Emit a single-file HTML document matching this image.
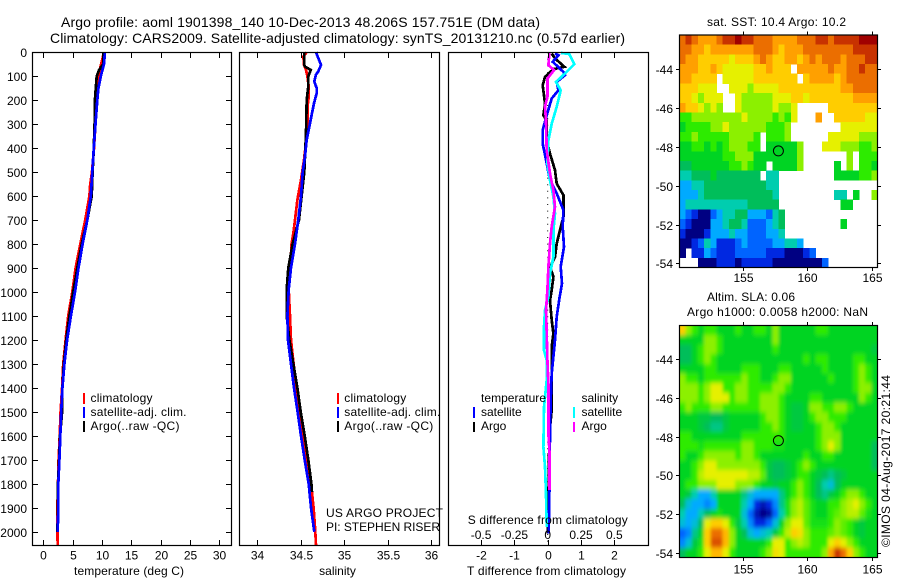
<!DOCTYPE html>
<html lang="en">
<head>
<meta charset="utf-8">
<title>Argo profile 1901398_140</title>
<style>
html,body{margin:0;padding:0;background:#fff;}
svg{display:block;}
text{font-family:"Liberation Sans",sans-serif;font-size:12px;fill:#000;}
.ttl{font-size:14px;}
.frame{fill:none;stroke:#000;stroke-width:1.2;}
.tick{stroke:#000;stroke-width:1;shape-rendering:crispEdges;}
.curve{fill:none;stroke-width:2.7;stroke-linejoin:miter;shape-rendering:crispEdges;}
</style>
</head>
<body>
<svg id="figure" xmlns="http://www.w3.org/2000/svg" width="900" height="580" viewBox="0 0 900 580">
  <defs>
    <clipPath id="clip-sst"><rect x="679.5" y="35" width="198.5" height="232.5"/></clipPath>
    <clipPath id="clip-sla"><rect x="679.5" y="325.5" width="198.5" height="232"/></clipPath>
    <filter id="soften" x="-10%" y="-10%" width="120%" height="120%"><feGaussianBlur stdDeviation="1.7 2.5"/></filter>
  </defs>

  <text class="ttl" x="61" y="27" textLength="479">Argo profile: aoml 1901398_140 10-Dec-2013 48.206S 157.751E (DM data)</text>
  <text class="ttl" x="50" y="43" textLength="575">Climatology: CARS2009. Satellite-adjusted climatology: synTS_20131210.nc (0.57d earlier)</text>

  <g id="panel-temp"></g>
  <g id="panel-sal"></g>
  <g id="panel-diff"></g>

  <g id="sst-cells" clip-path="url(#clip-sst)"></g>
  <g clip-path="url(#clip-sla)">
    <g id="sla-cells" filter="url(#soften)"></g>
  </g>
  <g id="map-axes"></g>

  <rect class="frame" x="32.5" y="52.5" width="199" height="493"/>
  <rect class="frame" x="239.5" y="52.5" width="200" height="493"/>
  <rect class="frame" x="448.5" y="52.5" width="200" height="493"/>

  <text x="129" y="575" text-anchor="middle" textLength="110">temperature (deg C)</text>
  <text x="337.5" y="575" text-anchor="middle">salinity</text>
  <text x="467" y="575" textLength="159">T difference from climatology</text>
  <text x="467.7" y="524" textLength="160">S difference from climatology</text>

  <g>
    <rect x="83" y="393" width="2" height="11" fill="#f00"/>
    <text x="90.5" y="402" textLength="62">climatology</text>
    <rect x="83" y="407" width="2" height="11" fill="#00f"/>
    <text x="90.5" y="416" textLength="96">satellite-adj. clim.</text>
    <rect x="83" y="421" width="2" height="11" fill="#000"/>
    <text x="90.5" y="430" textLength="89">Argo(..raw -QC)</text>
  </g>
  <g>
    <rect x="337" y="393" width="2" height="11" fill="#f00"/>
    <text x="344.3" y="402" textLength="62">climatology</text>
    <rect x="337" y="407" width="2" height="11" fill="#00f"/>
    <text x="344.3" y="416" textLength="96">satellite-adj. clim.</text>
    <rect x="337" y="421" width="2" height="11" fill="#000"/>
    <text x="344.3" y="430" textLength="89">Argo(..raw -QC)</text>
  </g>
  <text x="326" y="517" textLength="117">US ARGO PROJECT</text>
  <text x="326" y="531" textLength="114">PI: STEPHEN RISER</text>

  <g>
    <text x="481" y="402" textLength="65">temperature</text>
    <rect x="473" y="407" width="2" height="11" fill="#00f"/>
    <text x="481" y="416">satellite</text>
    <rect x="473" y="422" width="2" height="10" fill="#000"/>
    <text x="481" y="430">Argo</text>
    <text x="581.5" y="402">salinity</text>
    <rect x="573" y="407" width="2" height="11" fill="#0ff"/>
    <text x="581.5" y="416">satellite</text>
    <rect x="573" y="422" width="2" height="10" fill="#f0f"/>
    <text x="581.5" y="430">Argo</text>
  </g>

  <text x="707" y="26" textLength="139">sat. SST: 10.4 Argo: 10.2</text>
  <text x="707" y="301" textLength="88">Altim. SLA: 0.06</text>
  <text x="687" y="316" textLength="181">Argo h1000: 0.0058 h2000: NaN</text>
  <text transform="translate(890,547) rotate(-90)" textLength="172">©IMOS 04-Aug-2017 20:21:44</text>
</svg>

<script>
// ---------- profile data ----------
const depthTicks = [0,100,200,300,400,500,600,700,800,900,1000,1100,1200,1300,1400,1500,1600,1700,1800,1900,2000];
const tempTicks = [0,5,10,15,20,25,30];
const salTicks = [34,34.5,35,35.5,36];
const salTickLabels = ['34','34.5','35','35.5','36'];
const tDiffTicks = [-2,-1,0,1,2];
const sDiffTicks = [-0.5,-0.25,0,0.25,0.5];
const sDiffTickLabels = ['-0.5','-0.25','0','0.25','0.5'];

const tempDepthRed = [0,50,100,150,200,300,400,500,550,600,700,800,900,1000,1100,1200,1300,1400,1500,1600,1700,1800,1900,2000,2056];
const tempRed = [10.35,9.85,9.4,9.4,9.1,8.9,8.65,8.3,8,7.85,7.15,6.3,5.5,4.95,4.25,3.8,3.4,3.2,2.95,2.8,2.6,2.5,2.4,2.4,2.45];
const tempDepthBlack = [0,50,75,100,200,300,400,500,600,700,800,900,1000,1100,1200,1300,1400,1500,1600,1700,1800,1900,2000];
const tempBlack = [10.35,10.2,9.5,9.1,8.8,8.75,8.6,8.4,8.25,7.5,6.55,5.8,5.1,4.45,3.9,3.5,3.25,3.2,2.85,2.7,2.5,2.5,2.4];
const tempDepthBlue = [0,50,100,150,200,300,400,500,600,700,800,900,1000,1100,1200,1300,1400,1500,1600,1700,1800,1900,2000];
const tempBlue = [10.5,10.35,9.8,9.4,9.2,8.9,8.6,8.35,8.1,7.5,6.7,6,5.4,4.7,4.05,3.6,3.25,3.05,2.9,2.75,2.55,2.55,2.45];

const salDepthRed = [0,18,53,74,101,143,185,226,310,393,449,532,615,685,754,799,907,990,1100,1200,1300,1400,1500,1600,1700,1800,1900,2000,2056];
const salRed = [34.571,34.533,34.54,34.563,34.579,34.594,34.594,34.582,34.579,34.559,34.54,34.506,34.464,34.441,34.418,34.398,34.379,34.364,34.379,34.391,34.421,34.456,34.498,34.533,34.579,34.621,34.651,34.67,34.678];
const salDepthBlack = [0,53,60,74,101,143,199,338,435,499,601,699,799,899,990,1100,1200,1300,1400,1500,1600,1700,1800,1835];
const salBlack = [34.544,34.544,34.552,34.617,34.59,34.59,34.571,34.563,34.552,34.544,34.513,34.483,34.41,34.36,34.341,34.341,34.372,34.418,34.464,34.502,34.548,34.59,34.625,34.632];
const salDepthBlue = [0,25,53,80,94,122,150,171,213,254,310,365,435,499,601,699,799,899,990,1100,1200,1300,1400,1500,1600,1700,1800,1900,2000];
const salBlue = [34.678,34.705,34.736,34.705,34.678,34.659,34.686,34.686,34.655,34.632,34.602,34.571,34.552,34.525,34.506,34.475,34.437,34.391,34.364,34.349,34.356,34.391,34.425,34.467,34.506,34.548,34.594,34.621,34.659];

const diffDepthTArgo = [6,26,61,71,103,138,214,263,284,367,423,492,548,596,687,742,798,854,895,937,992,1034,1117,1173,1229,1493,1590,1868,2007];
const diffTArgo = [0.12,0.22,0.5,0.17,-0.08,-0.15,-0.08,-0.13,-0.03,-0.03,0.07,0.22,0.27,0.47,0.47,0.37,0.27,0.22,0.07,0.17,0.12,0.07,0.12,0.17,0.12,0.12,0.05,0.02,0];
const diffDepthTSat = [6,13,40,82,96,124,159,193,263,325,381,464,534,589,659,728,812,895,965,1027,1104,1201,1270,1340,1451,1590,1840,2007];
const diffTSat = [0.22,0.32,0.15,0.47,0.52,0.27,0.32,0.12,-0.03,-0.15,-0.15,-0.03,0.07,0.27,0.47,0.45,0.49,0.39,0.43,0.35,0.27,0.22,0.17,0.12,0.09,0.07,0.05,0.03];
const diffDepthSSat = [3,8,50,89,124,159,228,298,367,464,534,603,673,742,854,923,1020,1076,1145,1243,1284,1368,1479,1646,1729,1840,1979];
const diffSSat = [0.1,0.1625,0.2,0.13,0.0625,0.0975,0.0675,0.03,0.005,-0.0025,0.0175,0.0425,0.055,0.0425,0.0425,0.0175,0.005,-0.02,-0.0275,-0.0275,-0.0075,-0.0075,-0.0275,-0.0325,-0.02,-0.0125,-0.0075];
const diffDepthSArgo = [3,54,75,110,186,228,284,409,506,576,645,728,798,895,992,1076,1173,1284,1382,1590,1660,1826];
const diffSArgo = [0.0125,0.005,0.0475,-0.0025,-0.0025,-0.02,-0.0125,-0.0075,0.0175,0.0425,0.055,0.03,0.0175,0.005,-0.0025,-0.0125,-0.0075,-0.0025,0.005,0.005,0.0125,0.0125];

// ---------- map data (colour-scale index; null = no data) ----------
const n = null;
const sstRows = [
[12,13,12,11,11,11,12,13,13,14,13,13,12,12,12,11,11,11,11,12,12,12,13,13,12,13,13,13,13,14,14,14],
[12,12,11,11,10,11,11,11,11,11,11,11,12,12,12,11,10,11,11,11,12,12,12,12,12,12,12,12,13,13,13,13],
[12,11,11,10,10,10,10,10,9,10,10,10,11,12,11,10,10,11,11,10,11,12,11,12,12,12,11,12,12,12,13,13],
[11,11,11,10,10,11,10,9,9,9,9,9,10,10,11,10,10,10,n,11,11,11,11,11,12,11,11,12,12,13,12,12],
[11,11,10,10,10,10,n,9,9,9,9,9,10,10,10,10,10,10,10,n,10,11,11,11,11,10,11,12,12,12,12,12],
[10,10,10,9,9,9,n,n,9,9,9,8,9,9,9,9,10,10,10,10,10,10,10,10,10,10,11,11,12,12,12,12],
[10,10,9,8,9,9,9,n,n,9,8,8,8,8,8,9,9,9,10,10,9,10,10,10,10,10,10,10,11,11,11,11],
[11,10,10,9,8,9,8,n,n,9,8,8,8,8,8,9,8,8,9,n,n,n,n,n,10,10,10,10,10,10,10,10],
[7,7,8,8,8,8,8,8,8,8,9,8,8,8,8,7,8,7,9,n,n,n,11,n,n,10,10,10,10,10,9,9],
[6,7,7,7,7,8,8,9,8,8,8,8,8,8,7,7,7,8,n,n,n,n,n,n,n,n,9,9,9,9,9,9],
[7,7,8,7,7,7,7,7,8,8,8,8,7,n,7,7,7,8,n,n,n,n,n,n,9,9,9,9,9,8,8,8],
[6,6,7,7,6,7,6,7,8,8,8,7,7,n,6,6,6,6,6,8,n,n,n,9,9,9,8,8,8,7,7,8],
[6,6,6,6,6,6,6,7,7,8,8,8,6,6,6,6,6,6,6,8,n,n,n,n,n,n,n,8,n,7,7,7],
[5,5,6,6,6,6,6,6,7,7,8,7,6,6,n,6,6,6,6,8,n,n,n,n,n,6,n,8,n,7,7,6],
[4,4,5,5,5,6,5,5,5,5,5,5,5,n,4,4,n,n,n,n,n,n,n,n,n,6,6,6,6,7,7,8],
[3,3,4,4,5,5,5,5,5,5,5,5,5,5,4,4,n,n,n,n,n,n,n,n,n,n,n,n,n,n,n,n],
[3,3,3,4,5,5,5,5,5,5,5,5,5,5,5,4,n,n,n,n,n,n,n,n,n,4,4,n,6,n,n,8],
[3,4,4,4,4,4,4,4,4,4,4,5,5,5,5,5,n,n,n,n,n,n,n,n,n,n,6,6,n,n,n,n],
[3,2,1,0,0,2,3,4,4,5,5,3,3,3,2,4,5,n,n,n,n,n,n,n,n,n,n,n,n,n,n,n],
[2,1,0,0,0,3,3,4,5,5,4,2,2,2,3,4,5,n,n,n,n,n,n,n,n,n,6,n,n,n,n,n],
[1,0,0,0,1,3,3,3,4,3,3,2,2,2,3,3,4,n,n,n,n,n,n,n,n,n,n,n,n,n,n,n],
[0,0,1,2,4,3,1,1,1,2,3,2,2,2,2,3,3,4,4,3,n,n,n,n,n,n,n,n,n,n,n,n],
[0,n,1,1,3,2,1,1,1,2,2,2,2,2,1,1,1,0,0,0,1,2,n,n,n,n,n,n,n,n,n,n],
[n,n,n,0,0,0,1,1,1,0,1,1,1,1,1,0,0,0,0,0,0,0,0,2,n,n,n,n,n,n,n,n]
];
const slaRows = [
[10,8,7,6,7,7,6,6,6,7,6,6,7,7,6,8,6,6,6,6,6,6,7,7,6,6,6,6,6,6,6,6],
[6,6,6,6,8,8,7,6,6,6,6,6,6,6,6,8,6,6,6,6,6,6,6,6,6,6,6,6,6,6,6,6],
[5,5,6,7,8,8,7,6,6,6,6,6,6,6,6,7,6,6,6,6,6,6,6,6,6,6,6,6,6,6,6,5.5],
[5,5,6,7,8,7,6,6,6,6,6,6,6,6,6,6,6,6,6,6,7,6,7,7,6,6,6,6,7,7,6,6],
[6,6,6,6,7,7,6,6,6,6,7,7,7,6,6,6,7,7,6,6,6,6,6,7,6,6,6,6,7,8,7,6],
[8,7,7,6,7,7,7,7,7,7,8,7,7,6,6,7,8,8,6,6,6,6,6,6,7,6,6,6,7,8,7,6],
[8,8,8,7,8,9,9,7,7,8,8,7,7,7,7,8,8,7,6,6,6,6,6,6,6,6,6,6,7,8,8,6],
[8,8,8,7,8,9,9,9,7,8,8,7,7,8,8,8,7,6,6,6,6,7,7,6,6,6,6,6,6,8,7,6],
[7,8,7,7,7,8,8,7,7,7,7,7,7,8,8,8,7,6,5.5,5.5,6,8,8,7,7,8,8,7,6,6,6,6],
[6,6,6,5.5,5.5,5,5,5.5,6,6,6,6,6,7,8,8,7,6,5.5,5.5,6,7,8,8,7,7,7,6,6,6,6,6],
[6,6,6,5.5,5,4.5,4.5,5.5,6,6,6,6,6,7,7,8,7,6,5.5,5.5,6,6,7,8,8,7,6,6,6,6,6,6],
[7,7,6,6,6,6,6,6,6,6,7,7,7,7,7,7,7,6,6,6,6,6,7,8,8,8,6,6,6,6,6,6],
[7,7,7,6.5,7,7,7,7,7,7,8,8,7,7,7,6.5,6.5,6,6,6,6,6,7,8,9,8,6,6,6,6,6,5],
[7,6,6,7,8,8,8,8,8,7,8,8,7,6,6,6,6,6,6,6,7,6,6,7,7,6,6,6,6,6,6,5],
[6,6,7,8,9,9,8,8,8,8,8,8,8,7,5.5,5,5,5.5,6,7,8,7,6,6,6,6,6,6,6,6,6,5],
[6,6,7,8.5,9,9,9,9,9,9,9,8.5,8.5,7.5,5.5,5,5,5.5,6,7,7,6,5.5,5,4.5,5,5.5,6,6,6,6,6],
[6,7,7,8,8,8,9,9,9,8,8,8,7,6,6,5.5,6,6,7,8,7,6,5,4,3.5,5,6,6,6,6,6,6],
[6,5.5,4,3,3,4,6,6,6,6,4.5,3.5,3,3,3,3,4.5,6,7,8,7,6,5,4.5,5.5,6,7,8,8,7,6,6],
[5,3.5,3,3,2.5,3,6,6,6,6,4,3,1,0.5,1,2.5,4.5,6.5,8,8.5,7.5,6.5,6,6,7,7,8,8.5,9,8,7,6],
[4,3,3,4,5,6,6.5,6,6,6,3.5,2,0.5,0,0.3,2,4,6.5,8,8.5,7.5,6.5,6,6,7,7.5,8,8.5,8.5,7.5,6.5,6],
[3.5,3,3.5,5,9,10,10,9,7,5.5,4,2.5,1,1,2,3.5,6,8,9,9,7.5,6.5,6.5,6.5,7,8,7.5,7,6,5.5,6,6],
[2,2.5,4.5,6,10,12,12,10.5,8,6,5,3.5,3,3.5,4,5.5,7,8.5,10,9.5,8,7,7,7,7.5,8,7.5,7,6,5.5,6,6],
[2.5,3.5,5.5,6.5,10,12.5,12.5,10.5,8,6,6,6,6,6,7,9,9,7,8,8.5,8,7,7,7,9,10,9,8,7,6,6,6],
[5,6,6,7,9,10.5,10.5,9,7,6,6,6,6,7,8,9.5,9,7,7,7,7,7,7,8,11,13,12,10,8,7,6,6]
];
const lonTicks = [155,160,165];
const latTicks = [-44,-46,-48,-50,-52,-54];
const floatLon = 157.751;
const floatLat = -48.206;

// ---------- axis functions ----------
const SVGNS = 'http://www.w3.org/2000/svg';
const depthY = d => 52.2 + d * 0.2398;
const tempX = t => 43.3 + t * 5.867;
const salX = s => 257 + (s - 34) * 87;
const tDiffX = t => 547.7 + t * 33.3;
const sDiffX = s => 547.7 + s * 133.2;
const lonX = lon => 743 + (lon - 155) * 12.87;
const sstLatY = lat => 69.3 + (-44 - lat) * 19.4;
const slaLatY = lat => 359.3 + (-44 - lat) * 19.34;

function make(tag, parent) {
  const el = document.createElementNS(SVGNS, tag);
  parent.appendChild(el);
  return el;
}
function curve(parent, name, xs, depths, xFn, color) {
  const el = make('polyline', parent);
  
  
  el.setAttribute('class', 'curve');
  el.setAttribute('stroke', color);
  el.setAttribute('points', xs.map((v, i) => xFn(v).toFixed(1) + ',' + depthY(depths[i]).toFixed(1)).join(' '));
  return el;
}
function tickLine(parent, name, x1, y1, x2, y2) {
  const el = make('line', parent);
  
  
  el.setAttribute('class', 'tick');
  el.setAttribute('x1', x1);
  el.setAttribute('y1', y1);
  el.setAttribute('x2', x2);
  el.setAttribute('y2', y2);
}
function label(parent, name, x, y, anchor, str) {
  const el = make('text', parent);
  
  
  el.setAttribute('x', x);
  el.setAttribute('y', y);
  el.setAttribute('text-anchor', anchor);
  el.textContent = str;
}

// ---------- profile panels ----------
const pT = document.getElementById('panel-temp');
const pS = document.getElementById('panel-sal');
const pD = document.getElementById('panel-diff');

curve(pT, 'temperature-climatology-line', tempRed, tempDepthRed, tempX, '#f00');
curve(pT, 'temperature-argo-line', tempBlack, tempDepthBlack, tempX, '#000');
curve(pT, 'temperature-satellite-line', tempBlue, tempDepthBlue, tempX, '#00f');

curve(pS, 'salinity-climatology-line', salRed, salDepthRed, salX, '#f00');
curve(pS, 'salinity-argo-line', salBlack, salDepthBlack, salX, '#000');
curve(pS, 'salinity-satellite-line', salBlue, salDepthBlue, salX, '#00f');

const zeroLine = make('line', pD);


zeroLine.setAttribute('x1', tDiffX(0));
zeroLine.setAttribute('x2', tDiffX(0));
zeroLine.setAttribute('y1', depthY(0));
zeroLine.setAttribute('y2', depthY(2056));
zeroLine.setAttribute('stroke', '#000');
zeroLine.setAttribute('stroke-width', '1');
zeroLine.setAttribute('stroke-dasharray', '1 5.6');

curve(pD, 't-diff-argo-line', diffTArgo, diffDepthTArgo, tDiffX, '#000');
curve(pD, 't-diff-satellite-line', diffTSat, diffDepthTSat, tDiffX, '#00f');
curve(pD, 's-diff-satellite-line', diffSSat, diffDepthSSat, sDiffX, '#0ff');
curve(pD, 's-diff-argo-line', diffSArgo, diffDepthSArgo, sDiffX, '#f0f');

depthTicks.forEach(d => {
  const y = Math.round(depthY(d)) + 0.5;
  tickLine(pT, 'depth-tick-left', 32.5, y, 38, y);
  tickLine(pT, 'depth-tick-right', 226, y, 231.5, y);
  label(pT, 'depth-tick-label', 27, y + 4.5, 'end', String(d));
});
tempTicks.forEach(t => {
  const x = Math.round(tempX(t)) + 0.5;
  tickLine(pT, 'temperature-tick-top', x, 52.5, x, 58);
  tickLine(pT, 'temperature-tick-bottom', x, 540, x, 545.5);
  label(pT, 'temperature-tick-label', x, 559.5, 'middle', String(t));
});
salTicks.forEach((s, i) => {
  const x = Math.round(salX(s)) + 0.5;
  tickLine(pS, 'salinity-tick-top', x, 52.5, x, 58);
  tickLine(pS, 'salinity-tick-bottom', x, 540, x, 545.5);
  label(pS, 'salinity-tick-label', x, 559.5, 'middle', salTickLabels[i]);
});
tDiffTicks.forEach(t => {
  const x = Math.round(tDiffX(t)) + 0.5;
  tickLine(pD, 't-diff-tick-top', x, 52.5, x, 58);
  tickLine(pD, 't-diff-tick-bottom', x, 540, x, 545.5);
  label(pD, 't-diff-tick-label', x, 559.5, 'middle', String(t));
});
sDiffTicks.forEach((s, i) => {
  label(pD, 's-diff-tick-label', sDiffX(s), 539, 'middle', sDiffTickLabels[i]);
});

// ---------- colour scale ----------
const colourStops = [
  [0,0,130],[0,40,225],[0,100,255],[0,170,255],[0,205,175],[0,190,90],[0,212,35],
  [45,235,0],[140,240,0],[230,240,0],[255,205,0],[255,160,0],[235,110,0],[200,50,0],[160,0,0]
];
function colourOf(v) {
  const i = Math.max(0, Math.min(colourStops.length - 2, Math.floor(v)));
  const f = Math.max(0, Math.min(1, v - i));
  const a = colourStops[i], b = colourStops[i + 1];
  return 'rgb(' + a.map((c, k) => Math.round(c + (b[k] - c) * f)).join(',') + ')';
}

// ---------- maps ----------
const lonLeft = 150.05, lonStep = 0.4815;
const latStep = 0.4995;
const latTopSst = -42.23, latTopSla = -42.24;

function drawMap(groupId, rows, latTop, latY, cellName, bleed) {
  const g = document.getElementById(groupId);
  rows.forEach((row, r) => {
    row.forEach((v, c) => {
      if (v === null) return;
      let x0 = lonX(lonLeft + c * lonStep), x1 = lonX(lonLeft + (c + 1) * lonStep);
      let y0 = latY(latTop - r * latStep), y1 = latY(latTop - (r + 1) * latStep);
      if (bleed) {
        if (c === 0) x0 -= 14;
        if (c === row.length - 1) x1 += 14;
        if (r === 0) y0 -= 14;
        if (r === rows.length - 1) y1 += 14;
      }
      const cell = make('rect', g);
      
      
      cell.setAttribute('x', x0.toFixed(2));
      cell.setAttribute('y', y0.toFixed(2));
      cell.setAttribute('width', (x1 - x0 + 0.4).toFixed(2));
      cell.setAttribute('height', (y1 - y0 + 0.4).toFixed(2));
      cell.setAttribute('fill', colourOf(v));
      cell.setAttribute('shape-rendering', 'crispEdges');
    });
  });
}
drawMap('sst-cells', sstRows, latTopSst, sstLatY, 'sst-cell', false);
drawMap('sla-cells', slaRows, latTopSla, slaLatY, 'sla-cell', true);

function drawMapAxes(prefix, top, bottom, latY, labelBaseline) {
  const g = document.getElementById('map-axes');
  const left = 679.5, right = 877.5;
  const frame = make('rect', g);
  
  
  frame.setAttribute('class', 'frame');
  frame.setAttribute('x', left);
  frame.setAttribute('y', top);
  frame.setAttribute('width', right - left);
  frame.setAttribute('height', bottom - top);
  lonTicks.forEach(lon => {
    const x = Math.round(lonX(lon)) + 0.5;
    tickLine(g, prefix + '-lon-tick-top', x, top - 3.5, x, top);
    tickLine(g, prefix + '-lon-tick-bottom', x, bottom, x, bottom + 3.5);
    label(g, prefix + '-lon-tick-label', x, labelBaseline, 'middle', String(lon));
  });
  latTicks.forEach(lat => {
    const y = Math.round(latY(lat)) + 0.5;
    tickLine(g, prefix + '-lat-tick-left', left - 3.5, y, left, y);
    tickLine(g, prefix + '-lat-tick-right', right, y, right + 3.5, y);
    label(g, prefix + '-lat-tick-label', 673, y + 4.5, 'end', String(lat));
  });
  const dot = make('circle', g);
  
  
  dot.setAttribute('cx', lonX(floatLon));
  dot.setAttribute('cy', latY(floatLat));
  dot.setAttribute('r', 5);
  dot.setAttribute('fill', 'none');
  dot.setAttribute('stroke', '#000');
  dot.setAttribute('stroke-width', '1');
}
drawMapAxes('sst', 35, 267.5, sstLatY, 282);
drawMapAxes('sla', 325.5, 557.5, slaLatY, 573.5);
</script>
</body>
</html>
